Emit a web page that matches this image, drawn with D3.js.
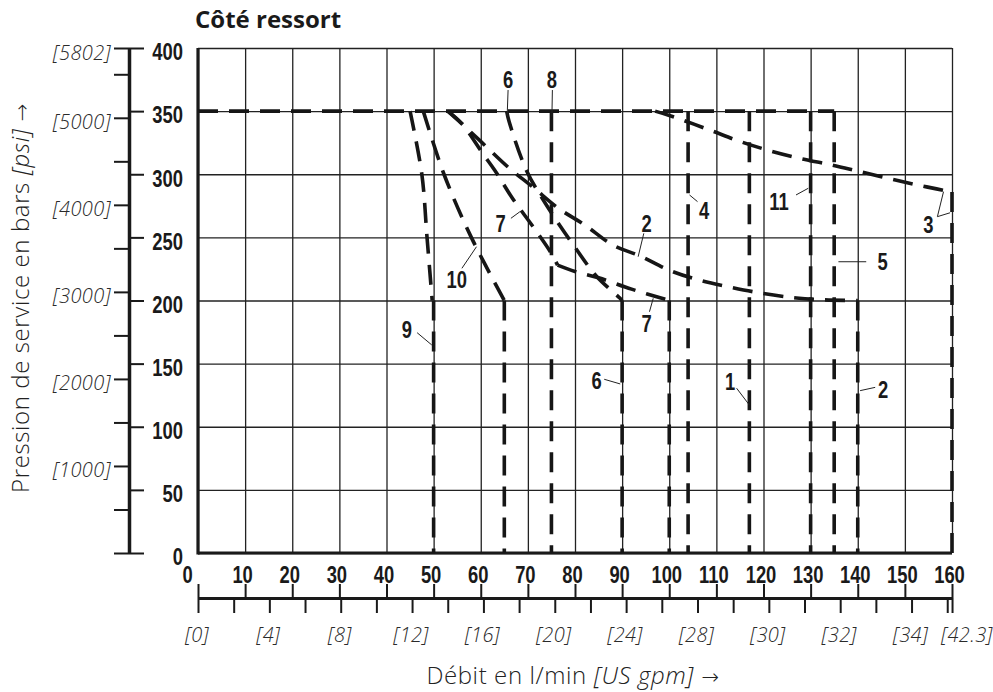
<!DOCTYPE html>
<html>
<head>
<meta charset="utf-8">
<script src="https://cdn.jsdelivr.net/npm/d3@7"></script>
<style>
  body { margin: 0; background: #fff; }
  svg { display: block; }
  .num { font-family: "Liberation Sans", Arial, sans-serif; font-weight: 700; font-size: 23px; fill: #1a1a1a; }
  .ital { font-family: "Open Sans", "Noto Sans", sans-serif; font-style: italic; font-weight: 300; font-size: 20px; fill: #2a2a2a; letter-spacing: 0.4px; }
</style>
</head>
<body>
<div id="chart"></div>
<script>
/* Côté ressort - pressure / flow limits */

// axis ticks
const barTicks = [0, 50, 100, 150, 200, 250, 300, 350, 400]
const psiTicks = [0, 500, 1000, 1500, 2000, 2500, 3000, 3500, 4000, 4500, 5000, 5500, 5802]
const psiLabels = [1000, 2000, 3000, 4000, 5000, 5802]
const lpmTicks = d3.range(0, 161, 10)
const gpmTicks = [0, 2, 4, 6, 8, 10, 12, 14, 16, 18, 20, 22, 24, 26, 28, 30, 32, 34, 36, 38, 40, 42, 42.27]
const gpmLabelPos = [0, 4, 8, 12, 16, 20, 24, 28, 32, 36, 40, 42.27]
const gpmLabelText = ["[0]", "[4]", "[8]", "[12]", "[16]", "[20]", "[24]", "[28]", "[30]", "[32]", "[34]", "[42.3]"]

// curves: [l/min, bar]
const max350 = [[0, 350], [135, 350]]
const curve1 = [[117, 350], [117, 0]]
const curve2 = [[53, 350], [56, 340], [60, 326], [66, 305], [71, 290], [76.5, 273], [82, 260], [88, 244], [94, 235], [100, 224], [106.5, 216], [113, 210.5], [120, 205.5], [127, 202], [133, 200.5], [140, 200]]
const drop2 = [[140, 200], [140, 0]]
const curve3 = [[97, 350], [100.5, 346], [108.6, 335], [115, 326], [121, 319], [127.7, 312.6], [134.5, 307.3], [140.5, 302], [148, 295.4], [154.6, 290], [160, 286]]
const drop3 = [[160, 286], [160, 0]]
const curve4 = [[104, 350], [104, 0]]
const curve5 = [[135, 350], [135, 0]]
const curve6 = [[65.5, 350], [66, 342], [69.7, 303], [73.7, 277], [80.4, 240], [84.6, 219], [89.5, 202], [90, 200]]
const drop6 = [[90, 200], [90, 0]]
const curve7a = [[53, 350], [56, 340], [60.5, 316], [63, 303], [66.9, 280], [70.8, 260], [74.7, 239], [76.3, 228]]
const curve7b = [[76.3, 228], [80, 223], [85, 218], [92, 209], [100, 200]]
const drop7 = [[100, 200], [100, 0]]
const curve8 = [[75, 350], [75, 0]]
const curve9 = [[45, 350], [47.5, 300], [48.6, 250], [49.7, 200]]
const drop9 = [[50, 200], [50, 0]]
const curve10 = [[47.8, 350], [52.2, 300], [58, 250], [65, 200]]
const drop10 = [[65, 200], [65, 0]]
const curve11 = [[130, 350], [130, 0]]

// curve numbers: label point and leader line(s), in l/min / bar
const labels = [
    {t: "6", at: [65.8, 374.7], lines: [[[65.8, 366.7], [65.6, 345.6]]]},
    {t: "8", at: [75.1, 374.7], lines: [[[75.2, 366.7], [75.1, 345.6]]]},
    {t: "7", at: [64.2, 261.1], lines: [[[66.4, 265.1], [68.3, 270.3]]]},
    {t: "2", at: [95.2, 261.1], lines: [[[94.6, 253.2], [93.4, 234.7]]]},
    {t: "4", at: [107.4, 271.1], lines: [[[104.3, 283.6], [106, 278.3]]]},
    {t: "11", at: [123.3, 278.3], lines: [[[126.9, 283.6], [129.5, 288.9]]]},
    {t: "3", at: [155, 259.8], lines: [[[156.9, 266.4], [158.2, 286.2]], [[156.9, 266.4], [159.6, 269.5]]]},
    {t: "5", at: [145.3, 230.7], lines: [[[135.9, 230.7], [141.8, 230.7]]]},
    {t: "10", at: [54.9, 216.2], lines: [[[56, 225.5], [59.1, 242.6]]]},
    {t: "7", at: [95.2, 181.9], lines: [[[95.8, 191.1], [96.6, 201.7]]]},
    {t: "9", at: [44.3, 177.2], lines: [[[46.5, 174.5], [49.6, 164.8]]]},
    {t: "6", at: [84.6, 136.2], lines: [[[86.2, 137.6], [89.6, 133.9]]]},
    {t: "1", at: [112.9, 135.7], lines: [[[114.3, 130.5], [117, 117.2]]]},
    {t: "2", at: [145.4, 129.7], lines: [[[143.7, 131.2], [140.5, 128.6]]]}
]

const curvedParts = [curve2, curve3, curve6, curve7a, curve7b, curve9, curve10]
const straightParts = [max350, curve1, drop2, drop3, curve4, curve5, drop6, drop7, curve8, drop9, drop10, curve11]

const width = 993, height = 692
const margin = ({top: 48, right: 41, bottom: 139, left: 198})
const squeeze = "scale(0.8,1)" // condensed look for the bold numbers

let svg = d3.select("#chart").append("svg")
    .attr("width", width).attr("height", height)
    .attr("viewBox", [0, 0, width, height])

let x = d3.scaleLinear().domain([0, 160]).range([margin.left, width - margin.right])
let y = d3.scaleLinear().domain([0, 400]).range([height - margin.bottom, margin.top])
let psi = d3.scaleLinear().domain([0, 5802]).range([height - margin.bottom, margin.top])
let gpm = d3.scaleLinear().domain([0, 160 / 3.78541]).range(x.range())

const bottom = height - margin.bottom

// grid
svg.append("g")
    .attr("transform", `translate(0,${bottom})`)
    .call(d3.axisBottom(x).tickValues(lpmTicks).tickSize(-(bottom - margin.top)).tickFormat(""))
    .call(g => g.select(".domain").remove())
    .call(g => g.selectAll("line").attr("stroke", "#222").attr("stroke-width", 1.3))
svg.append("g")
    .attr("transform", `translate(${margin.left},0)`)
    .call(d3.axisLeft(y).tickValues(barTicks).tickSize(-(x(160) - margin.left)).tickFormat(""))
    .call(g => g.select(".domain").remove())
    .call(g => g.selectAll("line").attr("stroke", "#222").attr("stroke-width", 1.3))

// heavy frame on left and bottom
svg.append("line").attr("x1", x(0)).attr("x2", x(0)).attr("y1", y(400)).attr("y2", bottom + 1.5)
    .attr("stroke", "#1a1a1a").attr("stroke-width", 3.2)
svg.append("line").attr("x1", x(0)).attr("x2", x(160)).attr("y1", bottom).attr("y2", bottom)
    .attr("stroke", "#1a1a1a").attr("stroke-width", 3.2)

// dashed curves
const smooth = d3.line().x(d => x(d[0])).y(d => y(d[1])).curve(d3.curveCatmullRom.alpha(0.5))
const straight = d3.line().x(d => x(d[0])).y(d => y(d[1]))

let curves = svg.append("g")
    .attr("fill", "none").attr("stroke", "#161616")
    .attr("stroke-width", 3.6).attr("stroke-dasharray", "20 11")
curves.selectAll(".smooth").data(curvedParts).join("path").attr("class", "smooth").attr("d", smooth)
curves.selectAll(".straight").data(straightParts).join("path").attr("class", "straight").attr("d", straight)

// curve numbers
let lab = svg.append("g")
lab.selectAll("g").data(labels).join("g")
    .call(g => g.selectAll("line").data(d => d.lines).join("line")
        .attr("x1", d => x(d[0][0])).attr("y1", d => y(d[0][1]))
        .attr("x2", d => x(d[1][0])).attr("y2", d => y(d[1][1]))
        .attr("stroke", "#222").attr("stroke-width", 1))
    .append("text").attr("class", "num")
    .attr("transform", d => `translate(${x(d.at[0])},${y(d.at[1])}) ${squeeze}`)
    .attr("text-anchor", "middle").attr("dy", "0.36em")
    .text(d => d.t)

// left axes: bar (right side ticks) and psi (left side ticks)
const axisX = 129
svg.append("g")
    .attr("transform", `translate(${axisX},0)`)
    .call(d3.axisRight(y).tickValues(barTicks).tickSize(15).tickSizeOuter(0))
    .call(g => g.select(".domain").remove())
    .call(g => g.selectAll("line").attr("stroke", "#1a1a1a").attr("stroke-width", 2))
    .call(g => g.selectAll("text").attr("class", "num").attr("text-anchor", "end")
        .attr("x", null).attr("transform", `translate(54,3.5) ${squeeze}`).attr("dy", "0.36em"))
svg.append("g")
    .attr("transform", `translate(${axisX},0)`)
    .call(d3.axisLeft(psi).tickValues(psiTicks).tickSize(15).tickSizeOuter(0)
        .tickFormat(d => psiLabels.includes(d) ? `[${d}]` : ""))
    .call(g => g.select(".domain").attr("stroke", "#1a1a1a").attr("stroke-width", 3.5))
    .call(g => g.selectAll("line").attr("stroke", "#1a1a1a").attr("stroke-width", 2))
    .call(g => g.selectAll("text").attr("class", "ital").attr("x", -18).attr("dy", "0.55em"))

// l/min labels
svg.append("g")
    .attr("transform", `translate(0,${bottom})`)
    .call(d3.axisBottom(x).tickValues(lpmTicks).tickSize(0))
    .call(g => g.select(".domain").remove())
    .call(g => g.selectAll("text").attr("class", "num").attr("y", null)
        .attr("transform", d => `translate(${d === 0 ? -11 : -3},14) ${squeeze}`))

// US gpm axis
const gY = 598
svg.append("g")
    .attr("transform", `translate(0,${gY})`)
    .call(d3.axisTop(x).tickValues(lpmTicks).tickSize(14).tickSizeOuter(0).tickFormat(""))
    .call(g => g.select(".domain").attr("stroke", "#1a1a1a").attr("stroke-width", 3.2))
    .call(g => g.selectAll("line").attr("stroke", "#1a1a1a").attr("stroke-width", 2))
svg.append("g")
    .attr("transform", `translate(0,${gY})`)
    .call(d3.axisBottom(gpm).tickValues(gpmTicks).tickSize(15).tickSizeOuter(0).tickFormat(""))
    .call(g => g.select(".domain").remove())
    .call(g => g.selectAll("line").attr("stroke", "#1a1a1a").attr("stroke-width", 2))
svg.append("g").selectAll("text").data(gpmLabelPos).join("text")
    .attr("class", "ital")
    .attr("x", (d, i) => gpm(d) + (i === gpmLabelPos.length - 1 ? 15 : -1))
    .attr("y", gY + 37).attr("dy", "0.36em").attr("text-anchor", "middle")
    .text((d, i) => gpmLabelText[i])

// titles
svg.append("text")
    .attr("x", 195).attr("y", 28)
    .attr("font-family", "'Open Sans', 'Liberation Sans', sans-serif").attr("font-weight", 700)
    .attr("font-size", 24).attr("fill", "#1a1a1a")
    .text("Côté ressort")

let xt = svg.append("text")
    .attr("x", 573).attr("y", 684).attr("text-anchor", "middle")
    .attr("font-family", "'Open Sans', sans-serif").attr("font-weight", 300)
    .attr("font-size", 24).attr("letter-spacing", 0.6).attr("fill", "#222")
xt.append("tspan").text("Débit en l/min ")
xt.append("tspan").attr("font-style", "italic").text("[US gpm]")
xt.append("tspan").attr("font-family", "'DejaVu Sans', sans-serif").attr("font-size", 21).text(" →")

let yt = svg.append("text")
    .attr("transform", "translate(29,298) rotate(-90)").attr("text-anchor", "middle")
    .attr("font-family", "'Open Sans', sans-serif").attr("font-weight", 300)
    .attr("font-size", 24).attr("letter-spacing", 0.6).attr("fill", "#222")
yt.append("tspan").text("Pression de service en bars ")
yt.append("tspan").attr("font-style", "italic").text("[psi]")
yt.append("tspan").attr("font-family", "'DejaVu Sans', sans-serif").attr("font-size", 21).text(" →")
</script>
</body>
</html>
